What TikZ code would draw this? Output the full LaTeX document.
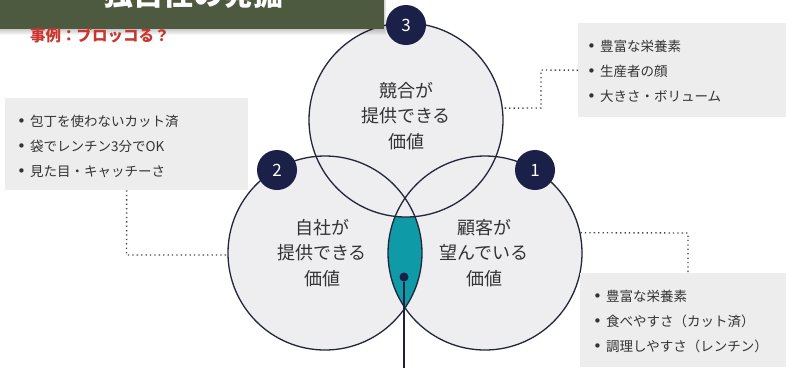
\documentclass[tikz,border=0pt]{standalone}
\usepackage{fontspec}
\setmainfont{Noto Sans CJK JP}
\newfontfamily\bulfont{DejaVu Sans}
\definecolor{titlegreen}{HTML}{4D5A3F}
\definecolor{subred}{HTML}{C9362F}
\definecolor{navy}{HTML}{1B2049}
\definecolor{lensteal}{HTML}{0E9AA6}
\definecolor{cfill}{HTML}{EEEEF0}
\definecolor{boxfill}{HTML}{EDEDED}
\definecolor{txt}{HTML}{333333}
\definecolor{ringcol}{HTML}{22263A}
\definecolor{conncol}{HTML}{444444}
\newcommand\bul{{\bulfont\fontsize{15}{15}\selectfont\color{black!80}•}\hspace{4pt}}
\begin{document}
\begin{tikzpicture}[x=1pt,y=-1pt,
  ring/.style={circle,draw=ringcol,line width=1.3pt,minimum size=194pt,inner sep=0pt},
  badge/.style={circle,fill=navy,minimum size=40pt,inner sep=0pt,text=white,font=\fontsize{17}{17}\selectfont},
  ctext/.style={align=center,text=txt,font=\fontsize{18}{25.5}\selectfont},
  listbox/.style={fill=boxfill,anchor=north west,inner sep=0pt},
  listtext/.style={anchor=west,align=left,text=txt,inner sep=0pt,font=\fontsize{13.5}{25}\selectfont},
  conn/.style={draw=conncol,line width=1.4pt,dash pattern=on 1.3pt off 3.1pt}]
\useasboundingbox (0,0) rectangle (786,368);
\fill[white] (0,0) rectangle (786,368);
% circle fills
\fill[cfill] (325,253) circle[radius=97pt];
\fill[cfill] (485,253) circle[radius=97pt];
\fill[cfill] (406,120) circle[radius=97pt];
\begin{scope}
  \clip (325,253) circle[radius=97pt];
  \fill[lensteal] (485,253) circle[radius=97pt];
\end{scope}
\fill[cfill] (406,120) circle[radius=97pt];
% rings
\node[ring] (cT) at (406,120) {};
\node[ring] (cL) at (325,253) {};
\node[ring] (cR) at (485,253) {};
% circle texts
\node[ctext] (tT) at (406,116) {競合が\\提供できる\\価値};
\node[ctext] (tL) at (322,253) {自社が\\提供できる\\価値};
\node[ctext] (tR) at (484,253) {顧客が\\望んでいる\\価値};
% badges
\node[badge] (b3) at (406,25) {3};
\node[badge] (b2) at (277,170) {2};
\node[badge] (b1) at (535,170) {1};
% center dot and stem
\node[circle,fill=navy,minimum size=9pt,inner sep=0pt] (dot) at (404,277) {};
\coordinate (stem) at (404,368);
\draw[navy,line width=1.6pt] (dot) -- (stem);
% list boxes
\node[listbox,minimum width=243pt,minimum height=92pt] (boxL) at (5,98) {};
\node[listtext] (txL) at (17,146) {\bul 包丁を使わないカット済\\\bul 袋でレンチン3分でOK\\\bul 見た目・キャッチーさ};
\node[listbox,minimum width=208pt,minimum height=94pt] (boxTR) at (578,23) {};
\node[listtext] (txTR) at (587,71) {\bul 豊富な栄養素\\\bul 生産者の顔\\\bul 大きさ・ボリューム};
\node[listbox,minimum width=206pt,minimum height=94pt] (boxBR) at (580,273) {};
\node[listtext] (txBR) at (593,321) {\bul 豊富な栄養素\\\bul 食べやすさ（カット済）\\\bul 調理しやすさ（レンチン）};
% connectors
\coordinate (kl1) at (126.5,255);
\draw[conn] (boxL.south) -- (kl1) -- (kl1 -| cL.west);
\coordinate (ktr1) at (541,70);
\coordinate (ktr2) at (541,108);
\draw[conn] (boxTR.west) -- (ktr1) -- (ktr2) -- (cT.7);
\coordinate (kr1) at (688,233);
\draw[conn] (cR.12) -- (kr1) -- (kr1 |- boxBR.north);
% title bar
\foreach \i in {1,...,6} \fill[black,opacity=0.035] (0,0) rectangle (384+0.4*\i,29+\i);
\fill[titlegreen] (0,0) rectangle (384,29);
\node[text=white,font=\fontsize{30}{30}\selectfont\bfseries] (title) at (193,-6) {独自性の発掘};
\node[anchor=west,text=subred,inner sep=0pt,font=\fontsize{15.5}{15.5}\selectfont\bfseries] (sub) at (30,36) {事例：ブロッコる？};
\end{tikzpicture}
\end{document}
